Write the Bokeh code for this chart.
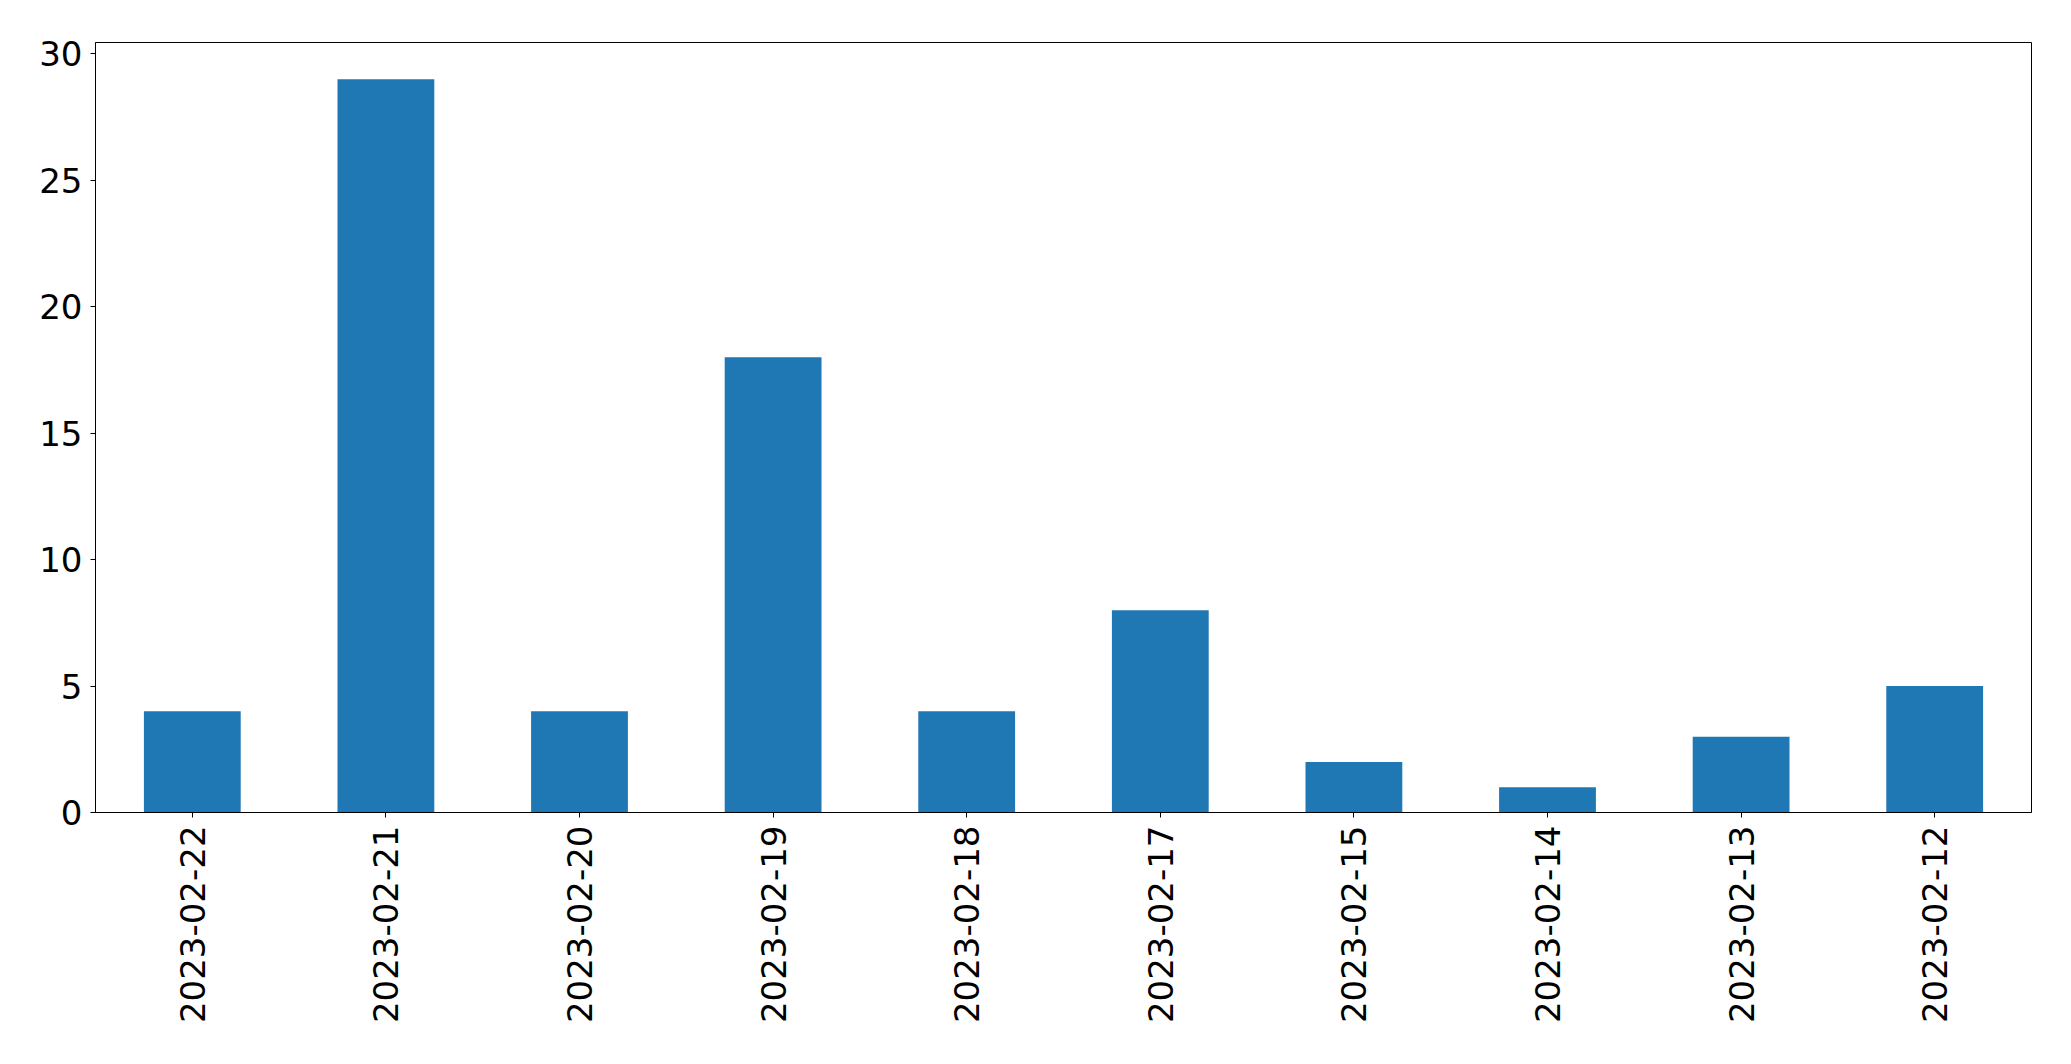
from bokeh.plotting import figure
from bokeh.models import FactorRange, Range1d, FixedTicker, ColumnDataSource
from bokeh.embed import file_html
from bokeh.resources import INLINE
import math

dates = ["2023-02-22", "2023-02-21", "2023-02-20", "2023-02-19", "2023-02-18",
         "2023-02-17", "2023-02-15", "2023-02-14", "2023-02-13", "2023-02-12"]
counts = [4, 29, 4, 18, 4, 8, 2, 1, 3, 5]
y_ticks = [0, 5, 10, 15, 20, 25, 30]

src = ColumnDataSource(data=dict(x=dates, top=counts))

p = figure(width=2055, height=1048, output_backend="svg", toolbar_location=None,
           x_range=FactorRange(factors=dates, range_padding=0),
           y_range=Range1d(0, 30.45),
           min_border_left=95, min_border_right=24, min_border_top=42, min_border_bottom=236)

p.vbar(x="x", top="top", width=0.5, source=src, color="#1f77b4", line_color=None)

p.xgrid.visible = False
p.ygrid.visible = False
p.outline_line_color = "black"
p.outline_line_alpha = 1
p.outline_line_width = 1
p.background_fill_color = "white"
p.border_fill_color = "white"

p.yaxis.ticker = FixedTicker(ticks=y_ticks)
for ax in (p.xaxis[0], p.yaxis[0]):
    ax.major_label_text_font = "DejaVu Sans"
    ax.major_label_text_font_size = "34px"
    ax.major_label_text_color = "black"
    ax.major_tick_out = 5
    ax.major_tick_in = 0
    ax.minor_tick_out = 0
    ax.minor_tick_in = 0
    ax.axis_line_color = "black"
    ax.major_tick_line_color = "black"
    ax.major_label_standoff = 8

p.xaxis.major_label_orientation = math.pi / 2

open("out.html", "w").write(file_html(p, INLINE))
